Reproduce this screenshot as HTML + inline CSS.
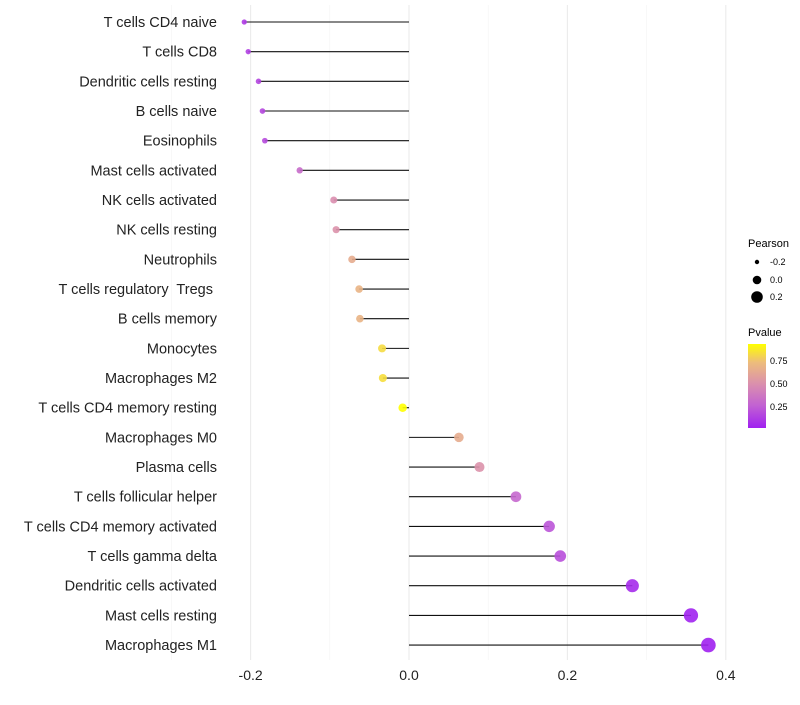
<!DOCTYPE html>
<html><head><meta charset="utf-8"><style>
body{margin:0;background:#fff;font-family:"Liberation Sans",sans-serif}
text{white-space:pre}
</style></head><body>
<svg id="c" width="800" height="700" xmlns="http://www.w3.org/2000/svg">
<defs><linearGradient id="pg" x1="0" y1="1" x2="0" y2="0">
<stop offset="0" stop-color="#A020F0"/><stop offset="0.27" stop-color="#C262D2"/><stop offset="0.52" stop-color="#DA8FAE"/><stop offset="0.78" stop-color="#EDBC7C"/><stop offset="1" stop-color="#FFFF00"/>
</linearGradient></defs>
<g id="grid"></g><g id="marks"></g><g id="labels"></g>
<g font-size="10">
<text x="748" y="247" font-size="11">Pearson</text>
<circle cx="757" cy="262" r="2.2" fill="#000"/><text x="770" y="265" font-size="9">-0.2</text>
<circle cx="757" cy="280" r="4.3" fill="#000"/><text x="770" y="283" font-size="9">0.0</text>
<circle cx="757" cy="297" r="5.8" fill="#000"/><text x="770" y="300" font-size="9">0.2</text>
<text x="748" y="336" font-size="11">Pvalue</text>
<rect x="748" y="344" width="18" height="84" fill="url(#pg)"/>
<text x="770" y="364" font-size="9">0.75</text><text x="770" y="387" font-size="9">0.50</text><text x="770" y="410" font-size="9">0.25</text>
</g>
</svg>
<script>
const categories=["T cells CD4 naive","T cells CD8","Dendritic cells resting","B cells naive","Eosinophils","Mast cells activated","NK cells activated","NK cells resting","Neutrophils","T cells regulatory  Tregs ","B cells memory","Monocytes","Macrophages M2","T cells CD4 memory resting","Macrophages M0","Plasma cells","T cells follicular helper","T cells CD4 memory activated","T cells gamma delta","Dendritic cells activated","Mast cells resting","Macrophages M1"];
const pearson=[-0.208,-0.203,-0.190,-0.185,-0.182,-0.138,-0.095,-0.092,-0.072,-0.063,-0.062,-0.034,-0.033,-0.008,0.063,0.089,0.135,0.177,0.191,0.282,0.356,0.378];
const pvalues=[0.12,0.14,0.16,0.17,0.18,0.32,0.5,0.52,0.66,0.7,0.7,0.84,0.85,0.96,0.66,0.52,0.3,0.22,0.2,0.06,0.03,0.02];
const xTicks=[-0.2,0,0.2,0.4];
const xTickLabels=["-0.2","0.0","0.2","0.4"];
const NS="http://www.w3.org/2000/svg";
const xs=v=>409+v*792, ys=i=>22+i*29.67;
function mk(t,a,p){const e=document.createElementNS(NS,t);for(const k in a)e.setAttribute(k,a[k]);p.appendChild(e);return e;}
function col(p){const t=Math.max(0,Math.min(1,(p-0.02)/0.93));
const s=[[0,[160,32,240]],[0.27,[194,98,210]],[0.52,[218,143,174]],[0.78,[237,188,124]],[1,[255,255,0]]];
for(let i=1;i<s.length;i++){if(t<=s[i][0]){const f=(t-s[i-1][0])/(s[i][0]-s[i-1][0]);const c=s[i-1][1].map((v,j)=>Math.round(v+f*(s[i][1][j]-v)));return`rgb(${c})`;}}return"rgb(255,255,0)";}
const g=document.getElementById('grid'),m=document.getElementById('marks'),l=document.getElementById('labels');
[-0.3,-0.1,0.1,0.3].forEach(v=>{const e=mk('line',{x1:xs(v),x2:xs(v),y1:5,y2:660,stroke:'#f3f3f3','stroke-width':0.6},g);

});
xTicks.forEach((v,i)=>{const e=mk('line',{x1:xs(v),x2:xs(v),y1:5,y2:660,stroke:'#ebebeb','stroke-width':1.1},g);


const t=mk('text',{x:xs(v),y:680,'text-anchor':'middle','font-size':14,fill:'#222'},l);t.textContent=xTickLabels[i];

});
categories.forEach((c,i)=>{const y=ys(i);
const t=mk('text',{x:217,y:y+5,'text-anchor':'end','font-size':14.5,fill:'#222'},l);t.textContent=c;


const s=mk('line',{x1:xs(0),x2:xs(pearson[i]),y1:y,y2:y,stroke:'#111','stroke-width':1.1},m);


const r=Math.max(2,4.3+8*pearson[i]);
const p=mk('circle',{cx:xs(pearson[i]),cy:y,r:r,fill:col(pvalues[i]),'fill-opacity':0.9},m);

});
</script>
</body></html>
